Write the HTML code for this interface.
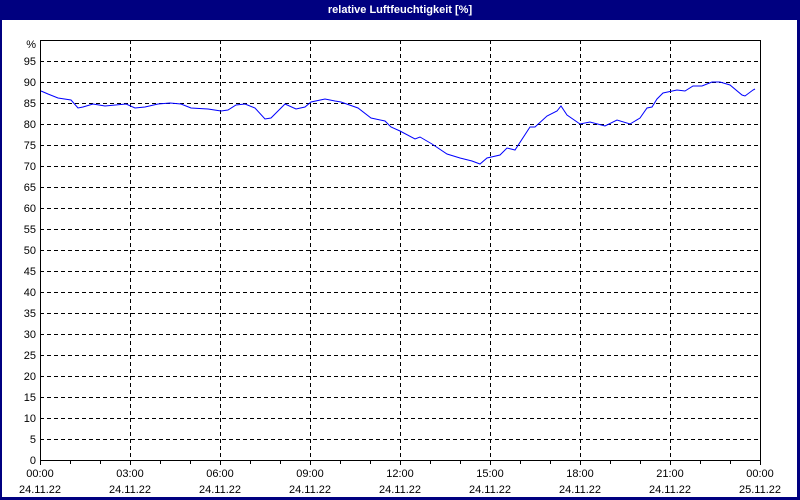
<!DOCTYPE html>
<html><head><meta charset="utf-8"><style>
html,body{margin:0;padding:0;background:#fff;}
svg{display:block;}
text{font-family:"Liberation Sans",sans-serif;font-size:11px;fill:#000;}
</style></head><body>
<svg width="800" height="500" xmlns="http://www.w3.org/2000/svg" shape-rendering="crispEdges">
<rect x="0" y="0" width="800" height="500" fill="#000080"/>
<rect x="2" y="20" width="795" height="477" fill="#fff"/>
<text x="400" y="13" text-anchor="middle" style="fill:#fff;font-weight:bold">relative Luftfeuchtigkeit [%]</text>
<g stroke="#000" stroke-dasharray="4,3" stroke-width="1">
<line x1="40" x2="760" y1="61.5" y2="61.5"/><line x1="40" x2="760" y1="82.5" y2="82.5"/>
<line x1="40" x2="760" y1="103.5" y2="103.5"/><line x1="40" x2="760" y1="124.5" y2="124.5"/>
<line x1="40" x2="760" y1="145.5" y2="145.5"/><line x1="40" x2="760" y1="166.5" y2="166.5"/>
<line x1="40" x2="760" y1="187.5" y2="187.5"/><line x1="40" x2="760" y1="208.5" y2="208.5"/>
<line x1="40" x2="760" y1="229.5" y2="229.5"/><line x1="40" x2="760" y1="250.5" y2="250.5"/>
<line x1="40" x2="760" y1="271.5" y2="271.5"/><line x1="40" x2="760" y1="292.5" y2="292.5"/>
<line x1="40" x2="760" y1="313.5" y2="313.5"/><line x1="40" x2="760" y1="334.5" y2="334.5"/>
<line x1="40" x2="760" y1="355.5" y2="355.5"/><line x1="40" x2="760" y1="376.5" y2="376.5"/>
<line x1="40" x2="760" y1="397.5" y2="397.5"/><line x1="40" x2="760" y1="418.5" y2="418.5"/>
<line x1="40" x2="760" y1="439.5" y2="439.5"/>
<line x1="130.5" x2="130.5" y1="40" y2="460"/><line x1="220.5" x2="220.5" y1="40" y2="460"/>
<line x1="310.5" x2="310.5" y1="40" y2="460"/><line x1="400.5" x2="400.5" y1="40" y2="460"/>
<line x1="490.5" x2="490.5" y1="40" y2="460"/><line x1="580.5" x2="580.5" y1="40" y2="460"/>
<line x1="670.5" x2="670.5" y1="40" y2="460"/>
</g>
<rect x="40.5" y="40.5" width="720" height="420" fill="none" stroke="#000"/>
<g stroke="#000">
<line x1="40.5" x2="40.5" y1="460" y2="465"/><line x1="70.5" x2="70.5" y1="460" y2="464"/><line x1="100.5" x2="100.5" y1="460" y2="464"/>
<line x1="130.5" x2="130.5" y1="460" y2="465"/><line x1="160.5" x2="160.5" y1="460" y2="464"/><line x1="190.5" x2="190.5" y1="460" y2="464"/>
<line x1="220.5" x2="220.5" y1="460" y2="465"/><line x1="250.5" x2="250.5" y1="460" y2="464"/><line x1="280.5" x2="280.5" y1="460" y2="464"/>
<line x1="310.5" x2="310.5" y1="460" y2="465"/><line x1="340.5" x2="340.5" y1="460" y2="464"/><line x1="370.5" x2="370.5" y1="460" y2="464"/>
<line x1="400.5" x2="400.5" y1="460" y2="465"/><line x1="430.5" x2="430.5" y1="460" y2="464"/><line x1="460.5" x2="460.5" y1="460" y2="464"/>
<line x1="490.5" x2="490.5" y1="460" y2="465"/><line x1="520.5" x2="520.5" y1="460" y2="464"/><line x1="550.5" x2="550.5" y1="460" y2="464"/>
<line x1="580.5" x2="580.5" y1="460" y2="465"/><line x1="610.5" x2="610.5" y1="460" y2="464"/><line x1="640.5" x2="640.5" y1="460" y2="464"/>
<line x1="670.5" x2="670.5" y1="460" y2="465"/><line x1="700.5" x2="700.5" y1="460" y2="464"/><line x1="730.5" x2="730.5" y1="460" y2="464"/>
<line x1="760.5" x2="760.5" y1="460" y2="465"/>
</g>
<g text-anchor="end">
<text x="36" y="48">%</text><text x="36" y="65">95</text><text x="36" y="86">90</text><text x="36" y="107">85</text>
<text x="36" y="128">80</text><text x="36" y="149">75</text><text x="36" y="170">70</text><text x="36" y="191">65</text>
<text x="36" y="212">60</text><text x="36" y="233">55</text><text x="36" y="254">50</text><text x="36" y="275">45</text>
<text x="36" y="296">40</text><text x="36" y="317">35</text><text x="36" y="338">30</text><text x="36" y="359">25</text>
<text x="36" y="380">20</text><text x="36" y="401">15</text><text x="36" y="422">10</text><text x="36" y="443">5</text>
<text x="36" y="464">0</text>
</g>
<g text-anchor="middle">
<text x="40" y="477">00:00</text><text x="130" y="477">03:00</text><text x="220" y="477">06:00</text>
<text x="310" y="477">09:00</text><text x="400" y="477">12:00</text><text x="490" y="477">15:00</text>
<text x="580" y="477">18:00</text><text x="670" y="477">21:00</text><text x="760" y="477">00:00</text>
<text x="40" y="493">24.11.22</text><text x="130" y="493">24.11.22</text><text x="220" y="493">24.11.22</text>
<text x="310" y="493">24.11.22</text><text x="400" y="493">24.11.22</text><text x="490" y="493">24.11.22</text>
<text x="580" y="493">24.11.22</text><text x="670" y="493">24.11.22</text><text x="760" y="493">25.11.22</text>
</g>
<polyline fill="none" stroke="#0000ff" stroke-width="1" shape-rendering="auto" points="41,91 48,94 58,98 71,100 78,108 83,107 93,104 105,106 126,104 135,108 145,107 158,104 170,103 181,104 191,108 208,109 221,111 228,110 236,105 245,104 255,108 265,119 271,118 285,104 296,109 305,107 311,102 325,99 335,101 341,102 358,108 371,118 385,121 391,127 400,131 415,139 420,137 432,144 447,154 460,158 472,161 480,164 487,158 500,155 507,148 515,150 530,127 535,127 547,116 557,111 561,106 567,115 580,124 590,122 605,126 617,120 630,124 640,118 647,108 652,107 657,99 663,93 677,90 685,91 693,86 702,86 712,82 720,82 730,85 742,95 745,96 753,90 755,89"/>
</svg>
</body></html>
